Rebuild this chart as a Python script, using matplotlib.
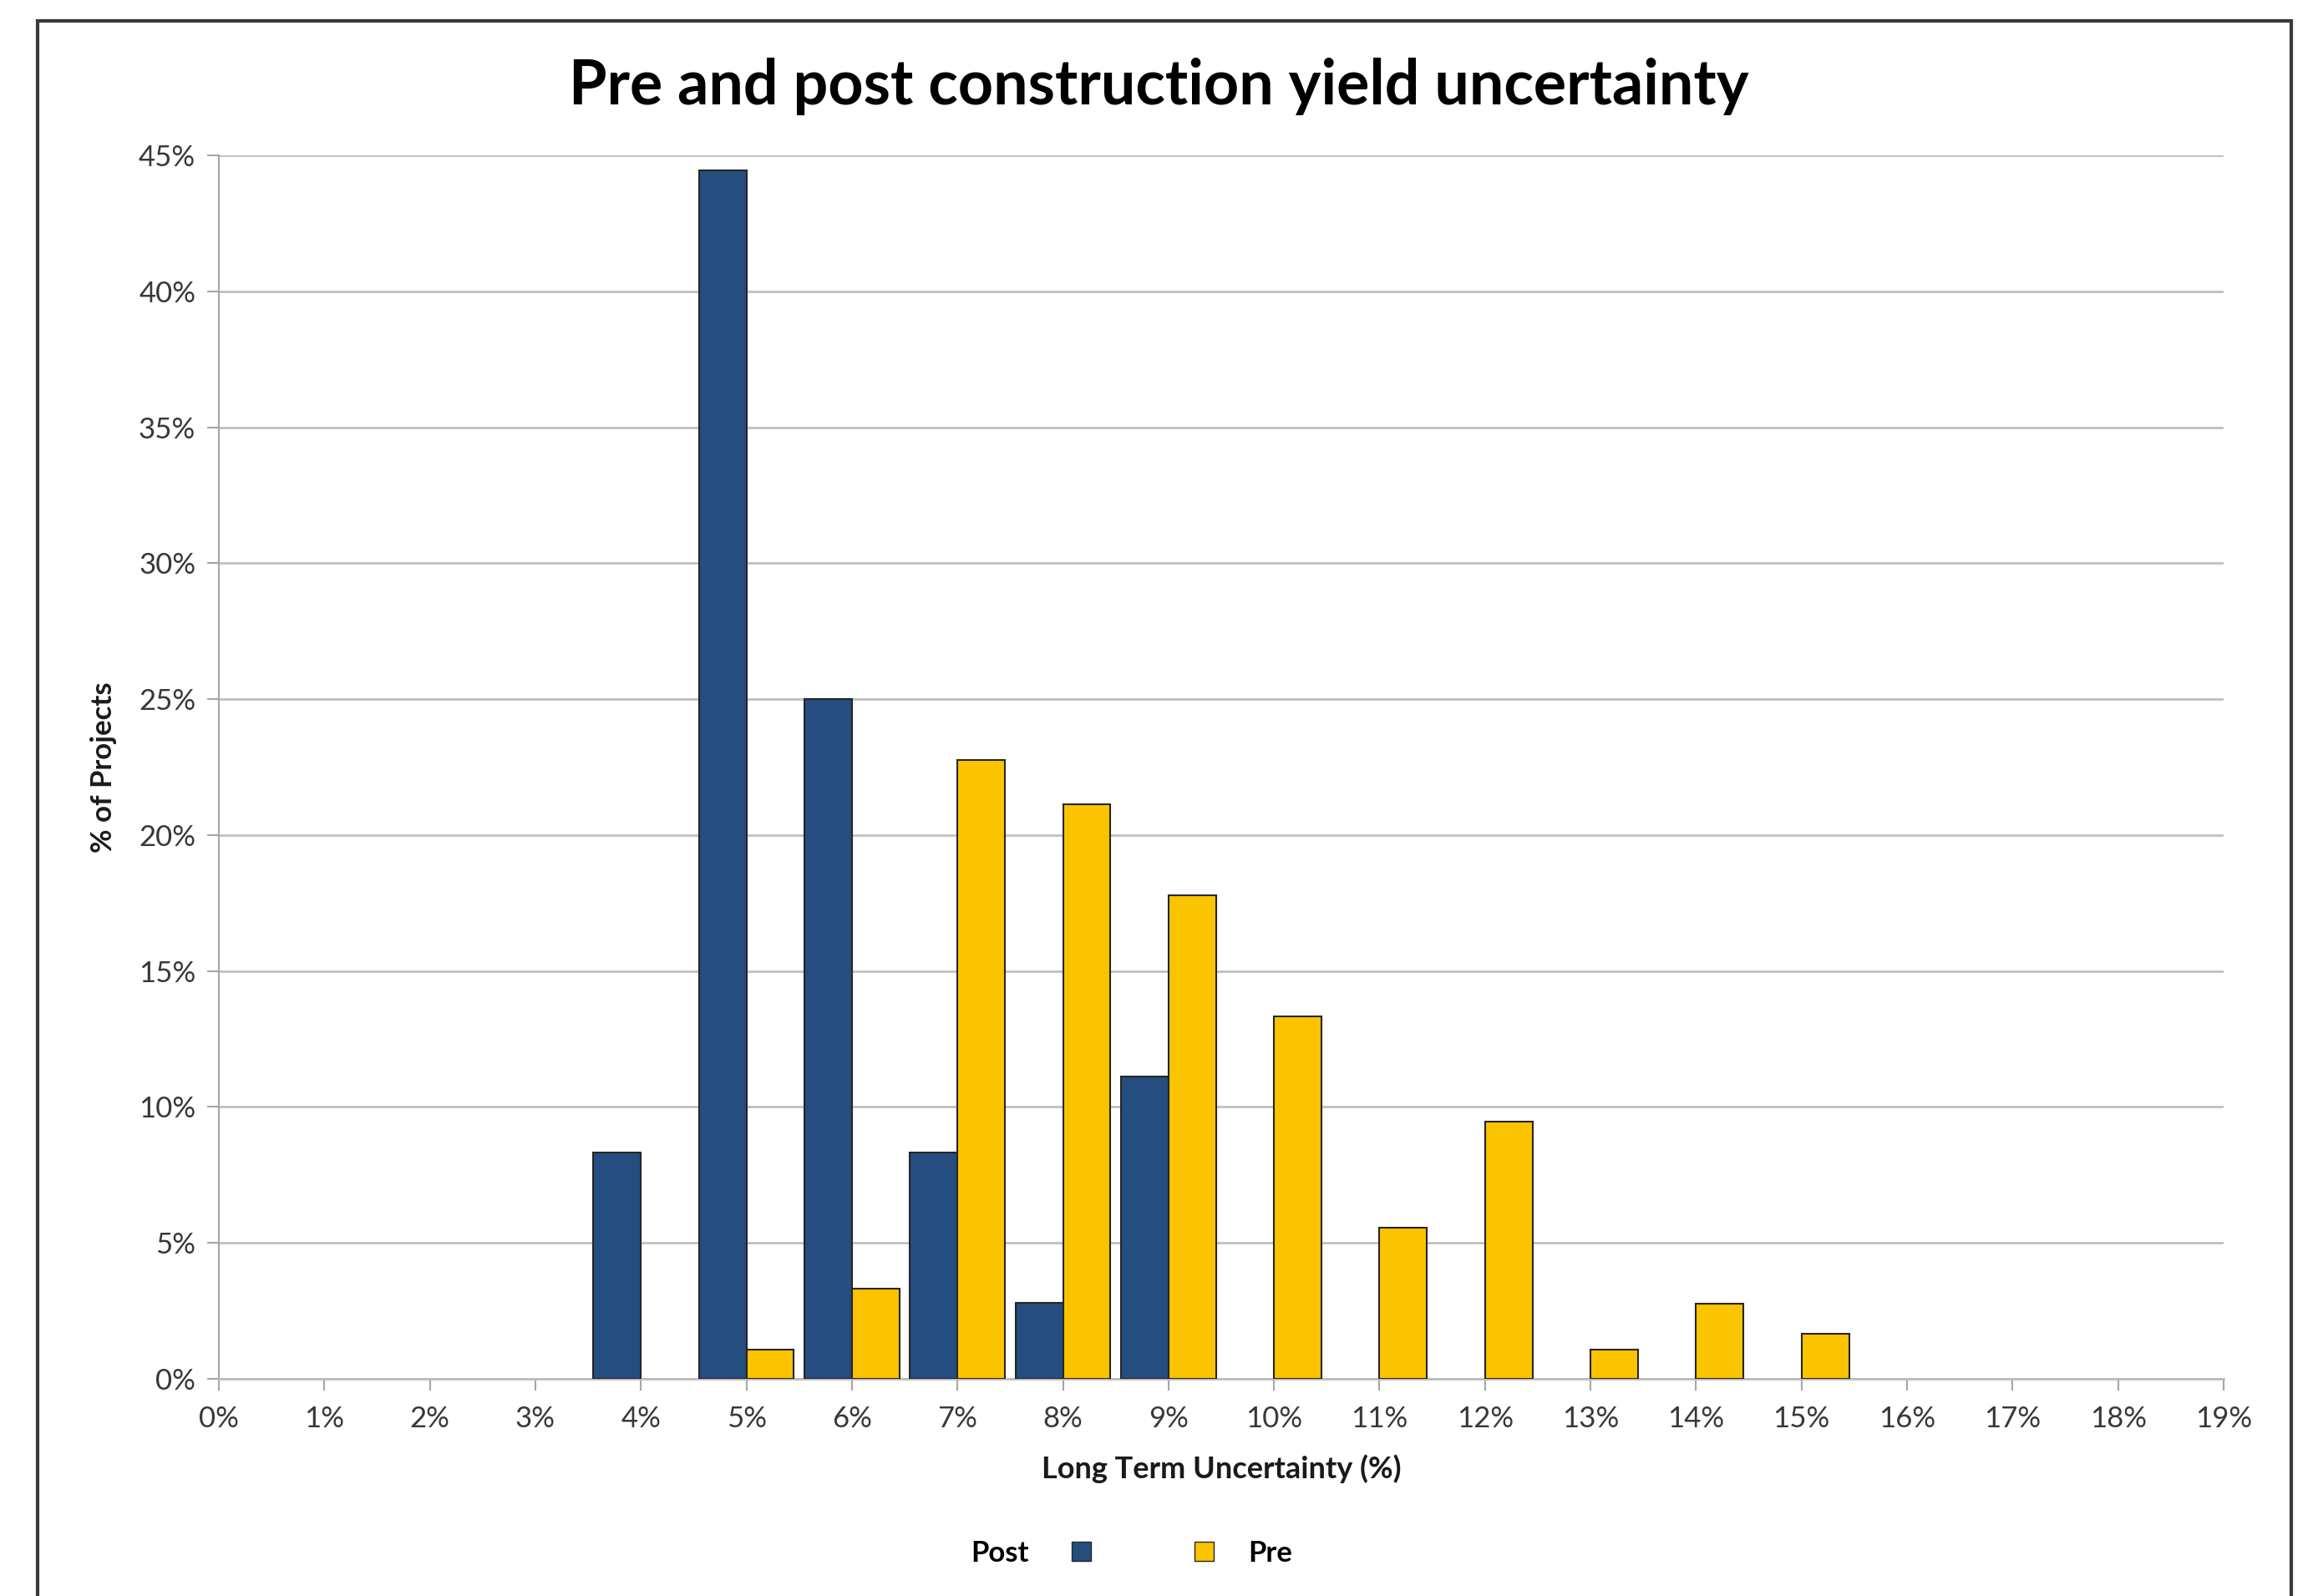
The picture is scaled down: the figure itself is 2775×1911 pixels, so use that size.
import matplotlib
matplotlib.use("Agg")
import matplotlib.pyplot as plt
from matplotlib.patches import Patch, Rectangle
import numpy as np

# Histogram of long-term yield uncertainty, pre vs post construction
uncertainty_pct = [4, 5, 6, 7, 8, 9, 10, 11, 12, 13, 14, 15]
post_share = [8.33, 44.44, 25.0, 8.33, 2.78, 11.11, 0, 0, 0, 0, 0, 0]
pre_share = [0, 1.08, 3.32, 22.75, 21.13, 17.78, 13.33, 5.55, 9.46, 1.08, 2.77, 1.67]
x_ticks = list(range(0, 20))
y_ticks = list(range(0, 50, 5))
series_names = ["Post", "Pre"]

POST_COLOR = "#254D80"
PRE_COLOR = "#FBC400"
EDGE = "#262626"
FONT = ["Lato", "DejaVu Sans"]

plt.rcParams["font.family"] = FONT

fig = plt.figure(figsize=(27.75, 19.11), dpi=100)
fig.patch.set_facecolor("white")

# outer chart frame (bottom edge falls outside the canvas)
frame = Rectangle((45 / 2775, -0.05), (2743 - 45) / 2775, 1 - 25 / 1911 + 0.05,
                  transform=fig.transFigure, fill=False, edgecolor="#3A3A3A",
                  linewidth=3.0, zorder=0)
fig.patches.append(frame)

ax = fig.add_axes([262 / 2775, 1 - 1651 / 1911, (2662 - 262) / 2775, (1651 - 186) / 1911])

width = 0.45
xs = np.array(uncertainty_pct, dtype=float)
post = np.array(post_share)
pre = np.array(pre_share)
mask_post = post > 0
mask_pre = pre > 0
ax.bar(xs[mask_post], post[mask_post], width=-width, align="edge",
       color=POST_COLOR, edgecolor=EDGE, linewidth=1.5, zorder=3)
ax.bar(xs[mask_pre], pre[mask_pre], width=width, align="edge",
       color=PRE_COLOR, edgecolor=EDGE, linewidth=1.5, zorder=3)

ax.set_xlim(0, 19)
ax.set_ylim(0, 45)
ax.set_xticks(x_ticks)
ax.set_xticklabels([f"{t}%" for t in x_ticks])
ax.set_yticks(y_ticks)
ax.set_yticklabels([f"{t}%" for t in y_ticks])

ax.yaxis.grid(True, color="#C0C0C0", linewidth=2.0, zorder=0)
ax.set_axisbelow(True)
for side in ("top", "right"):
    ax.spines[side].set_visible(False)
ax.spines["left"].set_color("#A6A6A6")
ax.spines["left"].set_linewidth(1.5)
ax.spines["bottom"].set_color("#BDBDBD")
ax.spines["bottom"].set_linewidth(2.0)

ax.tick_params(axis="x", length=10, width=1.5, color="#A6A6A6",
               labelsize=25, labelcolor="#383838", pad=13)
ax.tick_params(axis="y", length=10, width=1.5, color="#A6A6A6",
               labelsize=25, labelcolor="#383838", pad=10)

ax.set_xlabel("Long Term Uncertainty (%)", fontsize=26, fontweight="bold",
              color="#1A1A1A")
ax.xaxis.set_label_coords(0.5, -(1759 - 1651) / 1465)
ax.xaxis.label.set_va("center")
ax.set_ylabel("% of Projects", fontsize=25, fontweight="bold", color="#1A1A1A")
ax.yaxis.set_label_coords((124 - 262) / 2400, 0.5)
ax.yaxis.label.set_va("center")

fig.text(0.5, 1 - 104 / 1911, "Pre and post construction yield uncertainty",
         ha="center", va="center", fontsize=53, fontweight="bold", color="black")

# legend: label left of the swatch for the first series, right for the second
leg_y = 1 - 1860 / 1911
fig.legend(handles=[Patch(facecolor=POST_COLOR, edgecolor=EDGE, linewidth=1.0)],
           labels=[series_names[0]], loc="center right",
           bbox_to_anchor=(1306 / 2775, leg_y), frameon=False, markerfirst=False,
           handlelength=0.65, handleheight=0.65, handletextpad=1.5,
           borderpad=0, borderaxespad=0,
           prop={"family": FONT, "size": 25, "weight": "bold"})
fig.legend(handles=[Patch(facecolor=PRE_COLOR, edgecolor=EDGE, linewidth=1.0)],
           labels=[series_names[1]], loc="center left",
           bbox_to_anchor=(1430 / 2775, leg_y), frameon=False, markerfirst=True,
           handlelength=0.65, handleheight=0.65, handletextpad=1.2,
           borderpad=0, borderaxespad=0,
           prop={"family": FONT, "size": 25, "weight": "bold"})

fig.savefig("out.png", dpi=100, facecolor="white")
